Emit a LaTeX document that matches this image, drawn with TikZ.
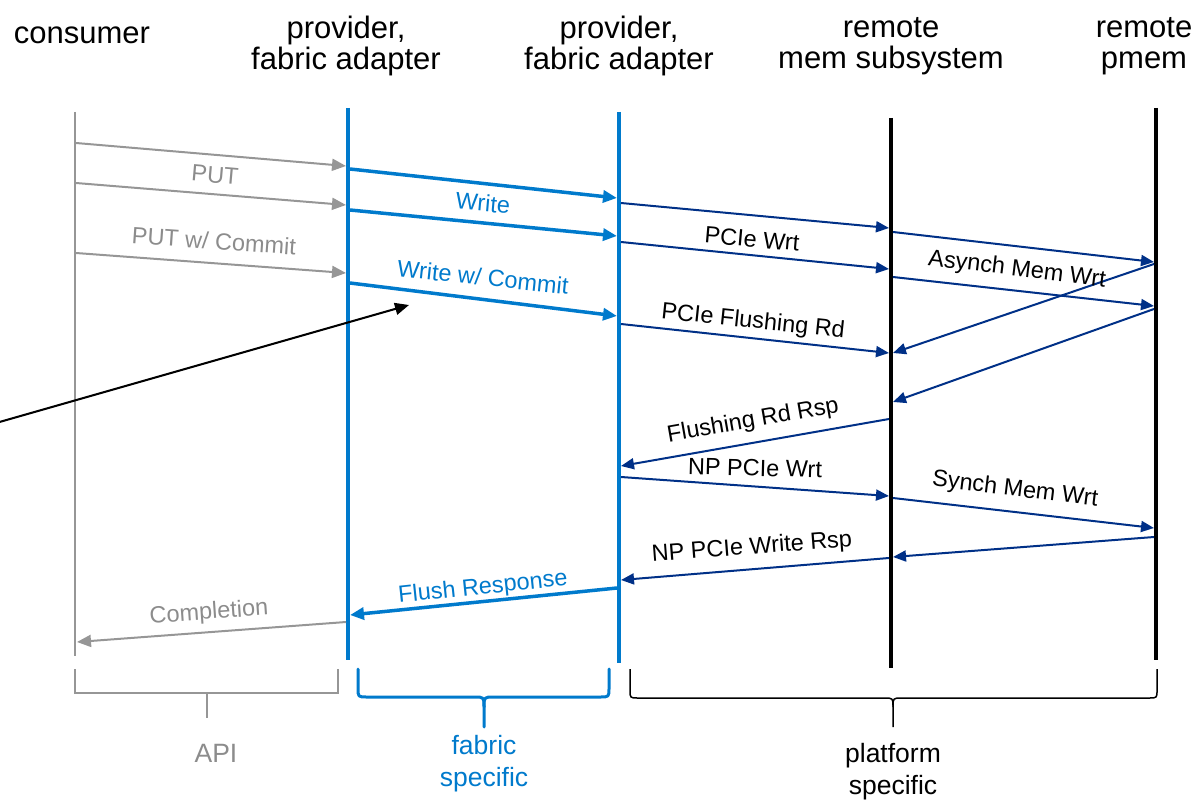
\documentclass[tikz,border=0pt]{standalone}
\usepackage{fontspec}
\setmainfont{Liberation Sans}
\usetikzlibrary{arrows.meta}
\definecolor{fblue}{RGB}{0,122,204}
\definecolor{navy}{RGB}{0,48,135}
\definecolor{lgray}{RGB}{150,150,150}
\definecolor{tgray}{RGB}{140,140,140}
\begin{document}
\begin{tikzpicture}[x=1pt,y=-1pt,
  hdr/.style={font=\fontsize{31}{31}\selectfont, align=center, inner sep=0pt},
  lbl/.style={font=\fontsize{23.5}{24}\selectfont, inner sep=0pt},
  foot/.style={font=\fontsize{26.5}{32}\selectfont, align=center, inner sep=0pt},
  gmsg/.style={draw=lgray, line width=2pt, -{Triangle[length=14pt,width=12pt]}},
  bmsg/.style={draw=fblue, line width=3.5pt, -{Triangle[length=14pt,width=12pt]}},
  nmsg/.style={draw=navy, line width=2pt, -{Triangle[length=13pt,width=11pt]}},
  gline/.style={draw=lgray, line width=2pt},
  bline/.style={draw=fblue, line width=3.5pt},
  kline/.style={draw=black, line width=4pt},
]
\useasboundingbox (0,0) rectangle (1196,802);

% headers
\node[hdr] (hcons) at (82,35) {consumer};
\node[hdr] (hp1) at (346,46) {provider,\\fabric adapter};
\node[hdr] (hp2) at (619,46) {provider,\\fabric adapter};
\node[hdr] (hrm) at (891,46) {remote\\mem subsystem};
\node[hdr] (hpm) at (1144,46) {remote\\pmem};

% lifelines
\draw[gline] (75,112) -- (75,656);
\draw[bline] (348,108) -- (348,660);
\draw[bline] (619,112) -- (619,663);
\draw[kline] (891,118) -- (891,668);
\draw[kline] (1156,108) -- (1156,660);

% gray messages
\coordinate (g1a) at (76,143); \coordinate (g1b) at (346,166);
\coordinate (g2a) at (76,183); \coordinate (g2b) at (346,205);
\coordinate (g3a) at (76,253); \coordinate (g3b) at (346,273);
\draw[gmsg] (g1a) -- (g1b);
\draw[gmsg] (g2a) -- (g2b);
\draw[gmsg] (g3a) -- (g3b);
\node[lbl, text=tgray, rotate=-5] (lput) at (215,175) {PUT};
\node[lbl, text=tgray, rotate=-4] (lputc) at (214,241) {PUT w/ Commit};

% blue messages
\coordinate (b1a) at (350,169); \coordinate (b1b) at (617,198);
\coordinate (b2a) at (350,210); \coordinate (b2b) at (617,236);
\coordinate (b3a) at (350,283); \coordinate (b3b) at (617,316);
\draw[bmsg] (b1a) -- (b1b);
\draw[bmsg] (b2a) -- (b2b);
\draw[bmsg] (b3a) -- (b3b);
\node[lbl, text=fblue, rotate=-5] (lw) at (483,203) {Write};
\node[lbl, text=fblue, rotate=-6] (lwc) at (483,277) {Write w/ Commit};

% navy messages
\coordinate (n1a) at (621,203); \coordinate (n1b) at (889,228);
\coordinate (n2a) at (621,242); \coordinate (n2b) at (889,269);
\coordinate (n3a) at (621,324); \coordinate (n3b) at (889,353);
\coordinate (n4a) at (893,232); \coordinate (n4b) at (1154,262);
\coordinate (n5a) at (893,277); \coordinate (n5b) at (1154,306);
\coordinate (n6a) at (1154,264); \coordinate (n6b) at (893,353);
\coordinate (n7a) at (1154,309); \coordinate (n7b) at (893,402);
\coordinate (n8a) at (889,419); \coordinate (n8b) at (621,466);
\coordinate (n9a) at (621,477); \coordinate (n9b) at (889,496);
\coordinate (n10a) at (893,498); \coordinate (n10b) at (1154,528);
\coordinate (n11a) at (1154,537); \coordinate (n11b) at (893,557);
\coordinate (n12a) at (889,558); \coordinate (n12b) at (621,580);
\foreach \i in {1,...,12} {\draw[nmsg] (n\i a) -- (n\i b);}
\node[lbl, rotate=-5] (lpw) at (752,239) {PCIe Wrt};
\node[lbl, rotate=-6] (lpf) at (753,322) {PCIe Flushing Rd};
\node[lbl, rotate=-7] (lam) at (1017,270) {Asynch Mem Wrt};
\node[lbl, rotate=10] (lfr) at (753,421) {Flushing Rd Rsp};
\node[lbl, rotate=-1.5] (lnp) at (755,468) {NP PCIe Wrt};
\node[lbl, rotate=-7] (lsm) at (1015,490) {Synch Mem Wrt};
\node[lbl, rotate=4.5] (lnpr) at (752,548) {NP PCIe Write Rsp};

% responses
\coordinate (f1a) at (617,588); \coordinate (f1b) at (350,615);
\draw[bmsg] (f1a) -- (f1b);
\node[lbl, text=fblue, rotate=6] (lfresp) at (483,588) {Flush Response};
\coordinate (c1a) at (346,622); \coordinate (c1b) at (77,642);
\draw[gmsg] (c1a) -- (c1b);
\node[lbl, text=tgray, rotate=4] (lcomp) at (209,613) {Completion};

% black pointer arrow
\coordinate (psrc) at (-4,423); \coordinate (ptip) at (409,305);
\draw[line width=2pt, -{Triangle[length=14pt,width=12pt]}] (psrc) -- (ptip);

% API bracket
\draw[gline] (75,669) -- (75,693) -- (338,693) -- (338,669);
\draw[gline] (207,693) -- (207,718);
\node[foot, text=tgray] (lapi) at (216,753) {API};

% fabric brace
\draw[fblue, line width=3pt, line cap=round, line join=round]
  (358,669) -- (358,688) .. controls (358,697) .. (367,697) -- (474,697)
  .. controls (484,697) .. (484,707) -- (484,727);
\draw[fblue, line width=3pt, line cap=round, line join=round]
  (609,669) -- (609,688) .. controls (609,697) .. (600,697) -- (494,697)
  .. controls (484,697) .. (484,707);
\node[foot, text=fblue] (lfab) at (484,764) {fabric\\specific};

% platform brace
\draw[black, line width=1.5pt, line join=round]
  (630,669) -- (630,690) .. controls (630,698) .. (638,698) -- (884,698)
  .. controls (893,698) .. (893,707) -- (893,727);
\draw[black, line width=1.5pt, line join=round]
  (1157,669) -- (1157,690) .. controls (1157,698) .. (1149,698) -- (902,698)
  .. controls (893,698) .. (893,707);
\node[foot] (lplat) at (893,772) {platform\\specific};
\end{tikzpicture}
\end{document}
